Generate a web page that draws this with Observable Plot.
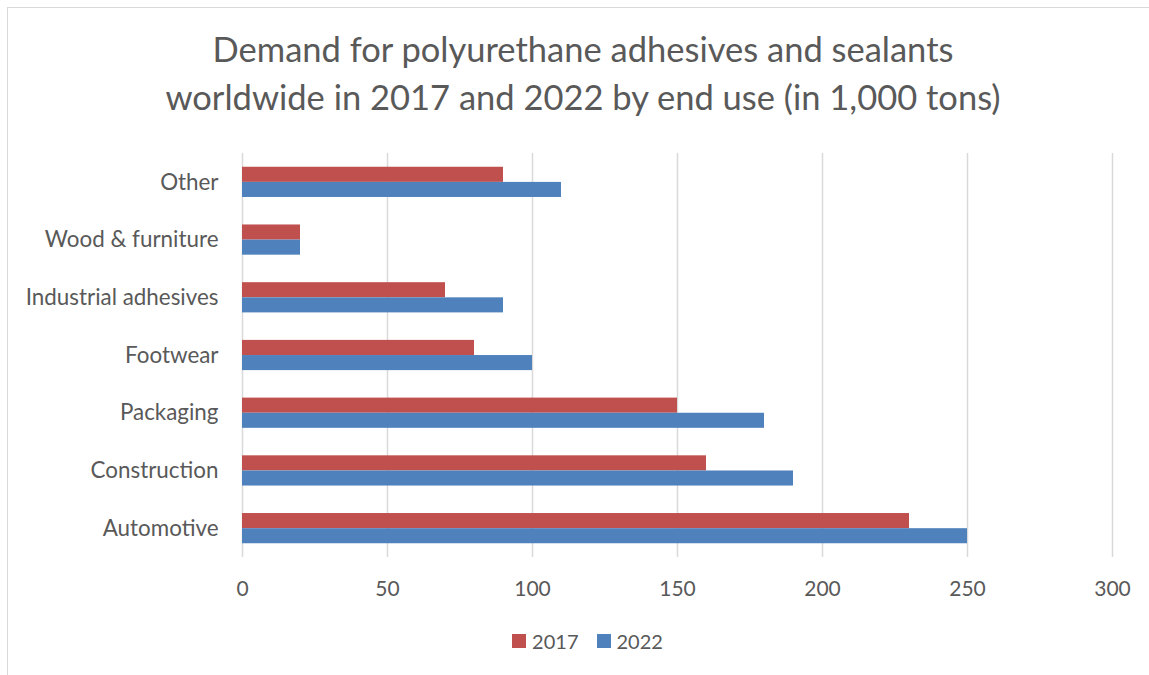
<!DOCTYPE html>
<html>
<head>
<meta charset="utf-8">
<script src="https://cdn.jsdelivr.net/npm/d3@7"></script>
<script src="https://cdn.jsdelivr.net/npm/@observablehq/plot@0.6"></script>
<style>
  html, body { margin: 0; padding: 0; background: #fff; }
  #wrap { position: relative; width: 1149px; height: 675px; overflow: hidden; font-family: Lato, sans-serif; color: #595959; }
  #frame { position: absolute; left: 7px; top: 7px; width: 1200px; height: 700px; border-left: 1.5px solid #d9d9d9; border-top: 1.5px solid #d9d9d9; }
  #title { position: absolute; left: 0; top: 25px; width: 1166px; text-align: center; font-size: 34.5px; line-height: 48px; }
  #chart { position: absolute; left: 0; top: 130px; }
  #legend { position: absolute; left: 0; top: 627px; width: 1149px; display: flex; justify-content: center; gap: 18px; font-size: 20px; line-height: 28px; padding-left: 26px; box-sizing: border-box; }
  .item { display: flex; align-items: center; gap: 6px; }
  .sw { width: 14px; height: 14px; display: inline-block; }
</style>
</head>
<body>
<div id="wrap">
  <div id="frame"></div>
  <div id="title">Demand for polyurethane adhesives and sealants<br>worldwide in 2017 and 2022 by end use (in 1,000 tons)</div>
  <div id="chart"></div>
  <div id="legend"></div>
</div>
<script>
const categories = ["Other", "Wood & furniture", "Industrial adhesives", "Footwear", "Packaging", "Construction", "Automotive"];
const values2017 = [90, 20, 70, 80, 150, 160, 230];
const values2022 = [110, 20, 90, 100, 180, 190, 250];
const xTicks = [0, 50, 100, 150, 200, 250, 300];
const seriesNames = ["2017", "2022"];
const seriesColors = ["#C0504D", "#4F81BD"];

const data2017 = categories.map((c, i) => ({category: c, value: values2017[i]}));
const data2022 = categories.map((c, i) => ({category: c, value: values2022[i]}));

const chart = Plot.plot({
  width: 1149,
  height: 480,
  marginLeft: 242,
  marginRight: 37,
  marginTop: 23,
  marginBottom: 53,
  style: {fontFamily: "Lato, sans-serif", fontSize: "21px", color: "#595959", background: "transparent"},
  x: {domain: [0, 300], ticks: xTicks, tickSize: 0, tickPadding: 24, label: null},
  y: {domain: categories, padding: 0, round: false, tickSize: 0, tickPadding: 24, label: null},
  marks: [
    Plot.ruleX(xTicks, {stroke: "#d9d9d9", strokeWidth: 1.5}),
    Plot.barX(data2017, {x: "value", y: "category", fill: seriesColors[0], insetTop: 13.75, insetBottom: 28.85}),
    Plot.barX(data2022, {x: "value", y: "category", fill: seriesColors[1], insetTop: 28.9, insetBottom: 13.75}),
    Plot.axisY({tickSize: 0, tickPadding: 24, fontSize: 22.4})
  ]
});
document.getElementById("chart").appendChild(chart);

const legend = document.getElementById("legend");
seriesNames.forEach((name, i) => {
  const item = document.createElement("div");
  item.className = "item";
  const sw = document.createElement("span");
  sw.className = "sw";
  sw.style.background = seriesColors[i];
  const label = document.createElement("span");
  label.textContent = name;
  item.appendChild(sw);
  item.appendChild(label);
  legend.appendChild(item);
});
</script>
</body>
</html>
